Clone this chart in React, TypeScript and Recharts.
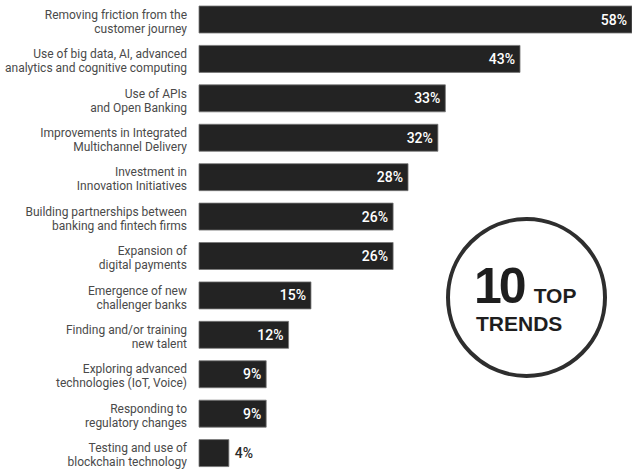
import { BarChart, Bar, XAxis, YAxis, LabelList } from "recharts";

// Top trends, share of respondents (%)
const CATEGORIES = [
  "Removing friction from the|customer journey",
  "Use of big data, AI, advanced|analytics and cognitive computing",
  "Use of APIs|and Open Banking",
  "Improvements in Integrated|Multichannel Delivery",
  "Investment in|Innovation Initiatives",
  "Building partnerships between|banking and fintech firms",
  "Expansion of|digital payments",
  "Emergence of new|challenger banks",
  "Finding and/or training|new talent",
  "Exploring advanced|technologies (IoT, Voice)",
  "Responding to|regulatory changes",
  "Testing and use of|blockchain technology",
];
const VALUES = [58, 43, 33, 32, 28, 26, 26, 15, 12, 9, 9, 4];

const data = CATEGORIES.map((name, i) => ({ name, value: VALUES[i] }));

const LABEL_FONT = "Roboto, 'Liberation Sans', sans-serif";

function CategoryTick(props: any) {
  const { x, y, payload } = props;
  const lines = String(payload.value).split("|");
  return (
    <text
      x={x - 4}
      y={y}
      textAnchor="end"
      fill="#4a4a4a"
      fontSize={12}
      fontFamily={LABEL_FONT}
    >
      {lines.map((line, i) => (
        <tspan key={i} x={x - 4} dy={i === 0 ? -1 : 14}>
          {line}
        </tspan>
      ))}
    </text>
  );
}

function ValueLabel(props: any) {
  const { x, y, width, height, value } = props;
  const inside = value >= 5;
  return (
    <text
      x={inside ? x + width - 5 : x + width + 6}
      y={y + height / 2 + 5}
      textAnchor={inside ? "end" : "start"}
      fill={inside ? "#ffffff" : "#2a2a2a"}
      fontSize={14}
      fontWeight={500}
      fontFamily={LABEL_FONT}
    >
      {`${value}%`}
    </text>
  );
}

export default function App() {
  return (
    <div style={{ position: "absolute", left: 0, top: 0, width: 632, height: 475, background: "#fff" }}>
      <BarChart
        width={632}
        height={475}
        data={data}
        layout="vertical"
        margin={{ top: 0, right: 0, bottom: 2, left: 0 }}
        barCategoryGap={0}
      >
        <XAxis type="number" domain={[0, 58]} hide />
        <YAxis
          type="category"
          dataKey="name"
          width={199}
          axisLine={false}
          tickLine={false}
          interval={0}
          tick={<CategoryTick />}
        />
        <Bar
          dataKey="value"
          fill="#232323"
          stroke="#777"
          strokeWidth={0.8}
          barSize={27}
          isAnimationActive={false}
        >
          <LabelList dataKey="value" content={<ValueLabel />} />
        </Bar>
      </BarChart>
      <div
        style={{
          position: "absolute",
          left: 446,
          top: 217,
          width: 153,
          height: 153,
          borderRadius: "50%",
          border: "4px solid #2e2e2e",
          background: "#fff",
        }}
      />
      <div
        style={{
          position: "absolute",
          left: 474,
          top: 261,
          fontFamily: "'Liberation Sans', Arial, sans-serif",
          fontWeight: 900,
          color: "#1e1e1e",
          lineHeight: 1,
        }}
      >
        <span style={{ fontSize: 50, letterSpacing: -3 }}>10</span>
        <span style={{ fontSize: 21, marginLeft: 10 }}>TOP</span>
        <div style={{ fontSize: 21, marginTop: 2, marginLeft: 2 }}>TRENDS</div>
      </div>
    </div>
  );
}
